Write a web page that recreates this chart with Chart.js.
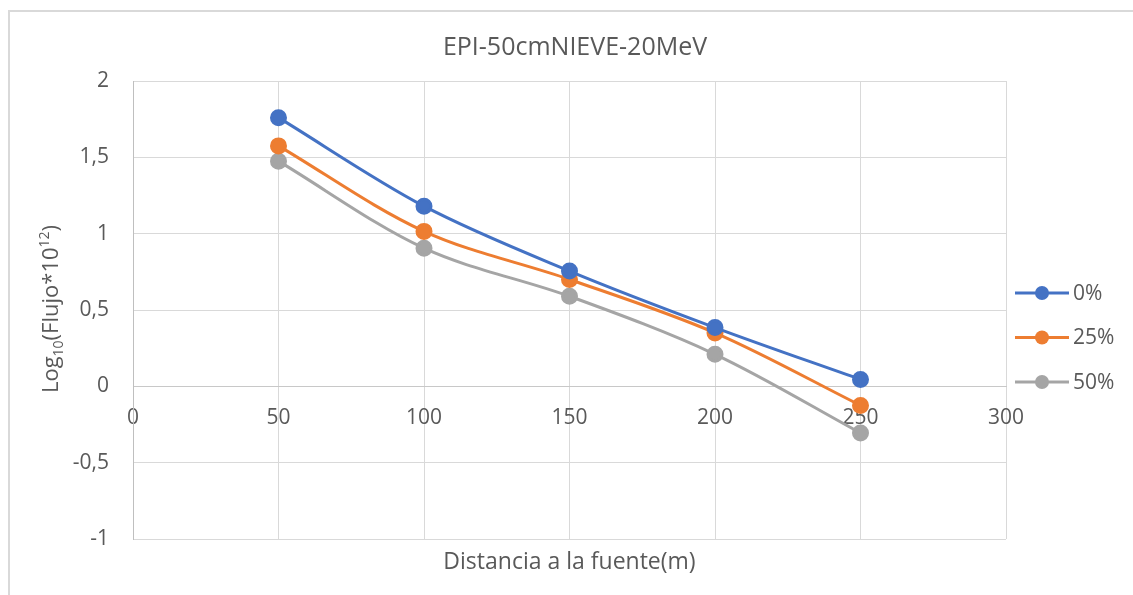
<!DOCTYPE html>
<html>
<head>
<meta charset="utf-8">
<title>EPI-50cmNIEVE-20MeV</title>
<script src="https://cdn.jsdelivr.net/npm/chart.js@4/dist/chart.umd.min.js"></script>
<style>
  html, body { margin: 0; padding: 0; background: #fff; overflow: hidden; }
  #wrap { position: relative; width: 1133px; height: 595px; }
  #frame { position: absolute; left: 8px; top: 10px; width: 1200px; height: 700px;
           border-top: 2px solid #d9d9d9; border-left: 2px solid #d9d9d9; box-sizing: border-box; }
  canvas { position: absolute; left: 0; top: 0; }
</style>
</head>
<body>
<div id="wrap">
  <div id="frame"></div>
  <canvas id="chart" width="1133" height="595"></canvas>
</div>
<script>
/*
  Flux vs. distance, three snow-water percentages
*/

const distances = [50, 100, 150, 200, 250];
const seriesLabels = ['0%', '25%', '50%'];
const flux0 = [1.76, 1.18, 0.755, 0.385, 0.045];
const flux25 = [1.575, 1.015, 0.70, 0.35, -0.125];
const flux50 = [1.475, 0.905, 0.59, 0.21, -0.305];
const seriesColors = ['#4472C4', '#ED7D31', '#A5A5A5'];

const xTicks = [0, 50, 100, 150, 200, 250, 300];
const yTicks = [-1, -0.5, 0, 0.5, 1, 1.5, 2];

const FONT = "'Open Sans', sans-serif";
const TEXT = '#595959';

const toPoints = vals => vals.map((v, i) => ({ x: distances[i], y: v }));

const makeSet = (label, vals, color) => ({
  label: label,
  data: toPoints(vals),
  borderColor: color,
  backgroundColor: color,
  pointBackgroundColor: color,
  pointBorderColor: color,
  borderWidth: 3,
  pointRadius: 7,
  pointHoverRadius: 7,
  tension: 0.33,
  fill: false
});

// title, rotated y title with sub/superscripts and the line+marker legend
const decorations = {
  id: 'decorations',
  afterDraw(chart) {
    const ctx = chart.ctx;
    ctx.save();
    ctx.fillStyle = TEXT;

    // chart title
    ctx.font = `25px ${FONT}`;
    ctx.textAlign = 'center';
    ctx.textBaseline = 'middle';
    ctx.fillText('EPI-50cmNIEVE-20MeV', 575, 48);

    // y axis title: Log10(Flujo*10^12)
    const parts = [
      { t: 'Log', size: 22, dy: 0 },
      { t: '10', size: 14, dy: 5 },
      { t: '(Flujo*10', size: 22, dy: 0 },
      { t: '12', size: 14, dy: -9 },
      { t: ')', size: 22, dy: 0 }
    ];
    let total = 0;
    parts.forEach(p => {
      ctx.font = `${p.size}px ${FONT}`;
      p.w = ctx.measureText(p.t).width;
      total += p.w;
    });
    ctx.translate(58, 309);
    ctx.rotate(-Math.PI / 2);
    ctx.textAlign = 'left';
    ctx.textBaseline = 'alphabetic';
    let x = -total / 2;
    parts.forEach(p => {
      ctx.font = `${p.size}px ${FONT}`;
      ctx.fillText(p.t, x, p.dy);
      x += p.w;
    });
    ctx.setTransform(1, 0, 0, 1, 0, 0);

    // legend
    ctx.font = `21px ${FONT}`;
    ctx.textAlign = 'left';
    ctx.textBaseline = 'middle';
    chart.data.datasets.forEach((ds, i) => {
      const y = 293 + i * 44.5;
      ctx.strokeStyle = ds.borderColor;
      ctx.lineWidth = 3;
      ctx.beginPath();
      ctx.moveTo(1015, y);
      ctx.lineTo(1069, y);
      ctx.stroke();
      ctx.fillStyle = ds.borderColor;
      ctx.beginPath();
      ctx.arc(1042, y, 7, 0, Math.PI * 2);
      ctx.fill();
      ctx.fillStyle = TEXT;
      ctx.fillText(ds.label, 1073, y + 1);
    });
    ctx.restore();
  }
};

new Chart(document.getElementById('chart'), {
  type: 'line',
  data: {
    datasets: [
      makeSet(seriesLabels[0], flux0, seriesColors[0]),
      makeSet(seriesLabels[1], flux25, seriesColors[1]),
      makeSet(seriesLabels[2], flux50, seriesColors[2])
    ]
  },
  options: {
    responsive: false,
    animation: false,
    layout: { padding: { left: 0, top: 81, right: 127, bottom: 0 } },
    plugins: {
      legend: { display: false },
      tooltip: { enabled: false }
    },
    scales: {
      x: {
        type: 'linear',
        position: { y: 0 },
        min: xTicks[0],
        max: xTicks[xTicks.length - 1],
        afterBuildTicks: scale => { scale.ticks = xTicks.map(v => ({ value: v })); },
        grid: { color: '#d9d9d9', lineWidth: 1, drawTicks: false },
        border: { color: '#c8c8c8', width: 1 },
        ticks: { color: TEXT, font: { family: FONT, size: 21 }, padding: 19, maxRotation: 0 }
      },
      xTitle: {
        type: 'linear',
        axis: 'x',
        position: 'bottom',
        min: 0,
        max: 300,
        grid: { display: false, drawTicks: false },
        border: { display: false },
        ticks: { display: false },
        title: {
          display: true,
          text: 'Distancia a la fuente(m)',
          color: TEXT,
          font: { family: FONT, size: 23 },
          padding: { top: 0, bottom: 19 }
        },
        afterFit: scale => { scale.height = 56; }
      },
      y: {
        type: 'linear',
        position: 'left',
        min: yTicks[0],
        max: yTicks[yTicks.length - 1],
        afterBuildTicks: scale => { scale.ticks = yTicks.map(v => ({ value: v })); },
        grid: { color: '#d9d9d9', lineWidth: 1, drawTicks: false },
        border: { color: '#bfbfbf', width: 1 },
        ticks: {
          color: TEXT,
          font: { family: FONT, size: 21 },
          padding: 24,
          callback: v => String(v).replace('.', ',')
        },
        afterFit: scale => { scale.width = 133; }
      }
    }
  },
  plugins: [decorations]
});
</script>
</body>
</html>
